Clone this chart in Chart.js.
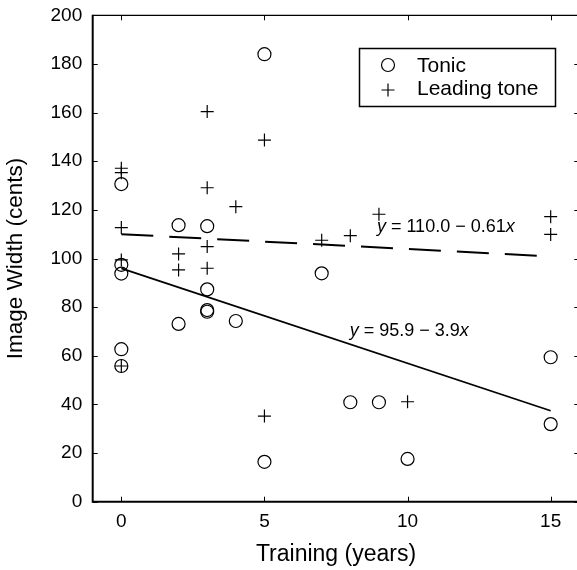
<!DOCTYPE html>
<html>
<head>
<meta charset="utf-8">
<script src="https://cdn.jsdelivr.net/npm/chart.js@4.4.1/dist/chart.umd.min.js"></script>
<style>
  html, body { margin: 0; padding: 0; background: #fff; }
</style>
</head>
<body>
<canvas id="myScatterChart" width="577" height="570"></canvas>
<script>
"use strict";

// Tonic: training (years) vs image width (cents)
const tonicYears  = [0, 0, 0, 0, 0, 2, 2, 3, 3, 3, 3, 4, 5, 5, 7, 8, 9, 10, 15, 15];
const tonicWidths = [130.6, 97.4, 93.8, 62.7, 55.8, 113.7, 73.1, 113.3, 87.3, 78.8, 78.1, 74.3, 184.0, 16.4, 93.9, 40.9, 40.9, 17.6, 59.4, 31.9];

// Leading tone
const leadingYears  = [0, 0, 0, 0, 0, 2, 2, 3, 3, 3, 3, 4, 5, 5, 7, 8, 9, 10, 15, 15];
const leadingWidths = [137.1, 135.3, 112.7, 99.4, 55.8, 101.9, 95.3, 160.4, 129.1, 104.9, 96.0, 121.3, 148.7, 35.2, 107.5, 109.4, 118.2, 41.1, 117.2, 109.9];

// regression lines, end points
const fitYears   = [0, 15];
const tonicFit   = [95.9, 37.4];
const leadingFit = [110.0, 100.85];

const xTicks = [0, 5, 10, 15];
const yTicks = [0, 20, 40, 60, 80, 100, 120, 140, 160, 180, 200];

const seriesLabels = ['Tonic', 'Leading tone'];

function toPoints(xs, ys) {
  return xs.map((x, i) => ({ x: x, y: ys[i] }));
}

const FONT = '"Liberation Sans", Arial, Helvetica, sans-serif';

// the right edge of the axes box sits just past the canvas (cropped figure)
const PLOT_RIGHT = 579.3;

const areaPlugin = {
  id: 'areaPlugin',
  afterLayout(chart) {
    const a = chart.chartArea;
    a.right = PLOT_RIGHT;
    a.width = a.right - a.left;
    const xs = chart.scales.x;
    xs.right = PLOT_RIGHT;
    xs.width = xs.right - xs.left;
    xs.configure();
  }
};

// inward ticks, spines, legend box and fit equations
const framePlugin = {
  id: 'framePlugin',
  afterDraw(chart) {
    const ctx = chart.ctx;
    const area = chart.chartArea;
    const xs = chart.scales.x;
    const ys = chart.scales.y;
    ctx.save();
    ctx.strokeStyle = '#000';
    ctx.fillStyle = '#000';

    // ticks
    ctx.lineWidth = 1;
    ctx.beginPath();
    xTicks.forEach(v => {
      const px = Math.round(xs.getPixelForValue(v)) + 0.5;
      ctx.moveTo(px, area.bottom); ctx.lineTo(px, area.bottom - 5);
      ctx.moveTo(px, area.top); ctx.lineTo(px, area.top + 5);
    });
    yTicks.forEach(v => {
      const py = Math.round(ys.getPixelForValue(v)) + 0.5;
      ctx.moveTo(area.left, py); ctx.lineTo(area.left + 5, py);
      ctx.moveTo(area.right, py); ctx.lineTo(area.right - 5, py);
    });
    ctx.stroke();

    // spines
    ctx.lineWidth = 1.3;
    ctx.beginPath();
    ctx.moveTo(area.left, area.top); ctx.lineTo(area.right, area.top);
    ctx.stroke();
    ctx.lineWidth = 2;
    ctx.beginPath();
    ctx.moveTo(area.left, area.top - 0.6); ctx.lineTo(area.left, area.bottom);
    ctx.lineTo(area.right, area.bottom);
    ctx.stroke();

    // legend
    const lx = 359.5, ly = 48.5, lw = 196, lh = 58;
    ctx.fillStyle = '#fff';
    ctx.fillRect(lx, ly, lw, lh);
    ctx.lineWidth = 1.5;
    ctx.strokeRect(lx, ly, lw, lh);
    ctx.fillStyle = '#000';
    ctx.lineWidth = 1.2;
    ctx.beginPath();
    ctx.arc(388, 65, 6.5, 0, Math.PI * 2);
    ctx.stroke();
    ctx.beginPath();
    ctx.moveTo(381.5, 90); ctx.lineTo(394.5, 90);
    ctx.moveTo(388, 83.5); ctx.lineTo(388, 96.5);
    ctx.stroke();
    ctx.font = '21px ' + FONT;
    ctx.textBaseline = 'middle';
    ctx.textAlign = 'left';
    ctx.fillText(seriesLabels[0], 417, 66);
    ctx.fillText(seriesLabels[1], 417, 89.5);

    // equations, italic y and x
    function equation(mid, x, y) {
      ctx.font = 'italic 18px ' + FONT;
      ctx.fillText('y', x, y);
      let cx = x + ctx.measureText('y').width;
      ctx.font = '18px ' + FONT;
      ctx.fillText(mid, cx, y);
      cx += ctx.measureText(mid).width;
      ctx.font = 'italic 18px ' + FONT;
      ctx.fillText('x', cx, y);
    }
    equation(' = 110.0 \u2212 0.61', xs.getPixelForValue(8.93), ys.getPixelForValue(113.1));
    equation(' = 95.9 \u2212 3.9', xs.getPixelForValue(7.98), ys.getPixelForValue(70.3));

    ctx.restore();
  }
};

const ctx = document.getElementById('myScatterChart').getContext('2d');
const myScatterChart = new Chart(ctx, {
  type: 'scatter',
  data: {
    datasets: [
      {
        label: seriesLabels[0],
        data: toPoints(tonicYears, tonicWidths),
        pointStyle: 'circle',
        pointRadius: 6.5,
        pointHoverRadius: 6.5,
        pointBorderWidth: 1.2,
        borderColor: '#000',
        backgroundColor: 'rgba(0,0,0,0)',
      },
      {
        label: seriesLabels[1],
        data: toPoints(leadingYears, leadingWidths),
        pointStyle: 'cross',
        pointRadius: 6.5,
        pointHoverRadius: 6.5,
        pointBorderWidth: 1.2,
        borderColor: '#000',
        backgroundColor: '#000',
      },
      {
        label: 'Tonic fit',
        type: 'line',
        data: toPoints(fitYears, tonicFit),
        borderColor: '#000',
        borderWidth: 1.8,
        pointRadius: 0,
        fill: false,
      },
      {
        label: 'Leading tone fit',
        type: 'line',
        data: toPoints(fitYears, leadingFit),
        borderColor: '#000',
        borderWidth: 2,
        borderDash: [32, 16],
        pointRadius: 0,
        fill: false,
      },
    ]
  },
  options: {
    responsive: false,
    animation: false,
    devicePixelRatio: 1,
    layout: { padding: { top: 15.3, right: 0, left: 0, bottom: 0 } },
    plugins: {
      legend: { display: false },
      tooltip: { enabled: false },
    },
    scales: {
      x: {
        type: 'linear',
        position: 'bottom',
        min: -1,
        max: 16,
        afterBuildTicks: s => { s.ticks = xTicks.map(v => ({ value: v })); },
        afterFit: s => { s.height = 68.3; s.paddingLeft = 0; s.paddingRight = 0; },
        grid: { display: false, drawTicks: false },
        border: { display: false },
        ticks: { color: '#000', font: { family: FONT, size: 19 }, padding: 8.5, maxRotation: 0 },
        title: {
          display: true, text: 'Training (years)', color: '#000',
          font: { family: FONT, size: 23 }, padding: { top: 0, bottom: 2 }
        },
      },
      y: {
        type: 'linear',
        min: 0,
        max: 200,
        afterBuildTicks: s => { s.ticks = yTicks.map(v => ({ value: v })); },
        afterFit: s => { s.width = 92.7; s.paddingTop = 0; s.paddingBottom = 0; },
        grid: { display: false, drawTicks: false },
        border: { display: false },
        ticks: { color: '#000', font: { family: FONT, size: 19 }, padding: 10.5 },
        title: {
          display: true, text: 'Image Width (cents)', color: '#000',
          font: { family: FONT, size: 22.5 }, padding: { top: 2.3, bottom: 0 }
        },
      },
    },
  },
  plugins: [areaPlugin, framePlugin],
});
</script>
</body>
</html>
